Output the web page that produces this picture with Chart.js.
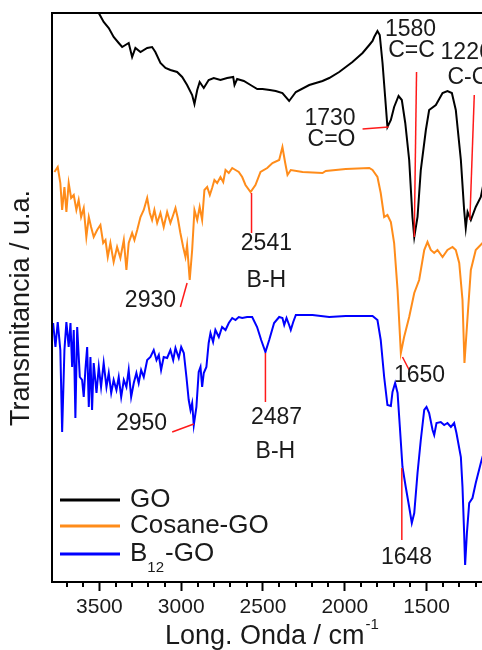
<!DOCTYPE html>
<html lang="es">
<head>
    <meta charset="UTF-8">
    <title>FTIR GO / Cosane-GO / B12-GO</title>
    <script src="https://cdn.jsdelivr.net/npm/chart.js"></script>
    <style>
        html, body { margin: 0; padding: 0; background: #fff; overflow: hidden; }
        #chart { display: block; }
    </style>
</head>
<body>
<canvas id="chart" width="560" height="650"></canvas>
<script>
    // --- datos (numero de onda en cm-1, transmitancia en u.a.) ---
    const wnGO = [3560, 3504, 3474, 3443, 3413, 3382, 3361, 3321, 3300, 3280, 3249, 3208, 3178, 3158, 3127, 3096, 3066, 3025, 2994, 2964,
        2933, 2919, 2902, 2887, 2862, 2832, 2801, 2760, 2719, 2682, 2674, 2658, 2617, 2576, 2535, 2503, 2458, 2422, 2381, 2340,
        2299, 2217, 2136, 2095, 2034, 1953, 1891, 1850, 1830, 1820, 1800, 1786, 1769, 1753, 1739, 1718, 1698, 1671, 1651, 1630,
        1606, 1586, 1575, 1555, 1535, 1504, 1484, 1443, 1402, 1372, 1345, 1321, 1290, 1270, 1260, 1249, 1229, 1199, 1168, 1100];
    const tGO = [600, 569, 560, 554, 545, 539, 535, 539, 525, 534, 530, 534, 535, 530, 519, 514, 512, 510, 505, 497,
        487, 478, 492, 500, 494, 502, 504, 502, 504, 505, 497, 503, 501, 497, 493, 493, 492, 491, 489, 481,
        490, 497, 501, 504, 510, 520, 529, 537, 541, 545, 551, 547, 519, 485, 455, 462, 475, 486, 482, 459,
        422, 365, 345, 365, 412, 452, 472, 477, 489, 491, 489, 472, 422, 372, 354, 370, 362, 375, 385, 440];

    const wnCosane = [3775, 3755, 3739, 3728, 3714, 3702, 3688, 3673, 3657, 3641, 3627, 3612, 3596, 3580, 3565, 3551, 3535, 3514, 3494, 3477,
        3463, 3449, 3433, 3413, 3392, 3372, 3351, 3335, 3321, 3300, 3286, 3269, 3249, 3229, 3208, 3192, 3178, 3164, 3147, 3127,
        3107, 3086, 3066, 3049, 3035, 3021, 3005, 2988, 2974, 2964, 2948, 2933, 2919, 2902, 2887, 2872, 2858, 2841, 2825, 2811,
        2797, 2780, 2760, 2743, 2729, 2709, 2688, 2668, 2648, 2627, 2607, 2576, 2546, 2515, 2474, 2442, 2401, 2381, 2364, 2350,
        2330, 2258, 2136, 2116, 1994, 1850, 1830, 1800, 1780, 1759, 1739, 1718, 1698, 1677, 1657, 1637, 1606, 1575, 1545, 1514,
        1494, 1474, 1453, 1433, 1402, 1372, 1341, 1321, 1300, 1280, 1268, 1249, 1229, 1199, 1158, 1100];
    const tCosane = [410, 415, 399, 372, 395, 370, 399, 384, 387, 372, 382, 365, 374, 345, 365, 355, 345, 352, 357, 339,
        342, 325, 339, 320, 335, 324, 342, 312, 339, 349, 342, 352, 365, 372, 384, 369, 362, 372, 359, 369,
        355, 370, 359, 367, 374, 364, 349, 335, 325, 337, 302, 332, 372, 362, 375, 362, 392, 395, 387, 394,
        402, 399, 405, 400, 412, 409, 414, 412, 410, 405, 397, 390, 397, 410, 414, 419, 422, 435, 419, 407,
        412, 410, 409, 411, 413, 414, 412, 405, 389, 365, 367, 360, 339, 292, 229, 245, 265, 289, 302, 332,
        340, 332, 329, 332, 325, 332, 335, 332, 319, 282, 219, 265, 312, 332, 339, 345];

    const wnB12 = [3783, 3769, 3755, 3739, 3728, 3714, 3702, 3688, 3677, 3667, 3657, 3647, 3636, 3620, 3606, 3596, 3586, 3575, 3565, 3555,
        3545, 3535, 3518, 3504, 3490, 3474, 3457, 3443, 3428, 3413, 3396, 3382, 3367, 3351, 3335, 3321, 3306, 3290, 3274, 3260,
        3245, 3229, 3208, 3188, 3168, 3151, 3137, 3123, 3107, 3086, 3066, 3049, 3035, 3015, 3000, 2984, 2968, 2954, 2943, 2933,
        2923, 2907, 2893, 2882, 2872, 2862, 2846, 2832, 2821, 2805, 2791, 2770, 2750, 2729, 2709, 2688, 2668, 2648, 2627, 2597,
        2566, 2536, 2511, 2485, 2462, 2432, 2401, 2381, 2370, 2356, 2340, 2330, 2315, 2299, 2197, 2095, 1994, 1891, 1830, 1800,
        1780, 1759, 1739, 1718, 1708, 1692, 1677, 1663, 1647, 1627, 1606, 1590, 1575, 1555, 1535, 1514, 1500, 1484, 1463, 1453,
        1439, 1413, 1392, 1372, 1351, 1331, 1317, 1290, 1280, 1270, 1264, 1253, 1239, 1219, 1199, 1168, 1158, 1100];
    const tB12 = [259, 235, 260, 232, 150, 232, 260, 235, 259, 215, 252, 164, 255, 205, 202, 185, 212, 235, 175, 225,
        172, 219, 189, 215, 195, 219, 195, 209, 189, 202, 192, 205, 185, 202, 195, 212, 185, 199, 209, 199,
        212, 205, 222, 225, 232, 222, 227, 212, 225, 224, 232, 222, 234, 224, 235, 229, 205, 182, 172, 179,
        157, 175, 210, 215, 195, 209, 215, 239, 249, 240, 252, 245, 255, 252, 259, 264, 262, 265, 264, 265,
        265, 255, 242, 230, 242, 259, 265, 264, 257, 264, 257, 252, 260, 267, 267, 265, 266, 266, 266, 262,
        242, 205, 177, 176, 190, 199, 189, 155, 115, 95, 75, 59, 69, 109, 142, 172, 175, 169, 152, 147,
        159, 160, 157, 159, 155, 159, 149, 125, 95, 49, 17, 49, 79, 84, 99, 119, 125, 150];

    const seriesNames = ['GO', 'Cosane-GO', 'B12-GO'];
    const seriesColors = ['#000000', '#ff8c1a', '#0000ff'];
    const xTickValues = [3500, 3000, 2500, 2000, 1500, 1000];

    // etiquetas de picos: texto, posicion (cm-1, u.a.), alineacion
    const peakLabels = [
        { text: '1580', wn: 1598, t: 552, align: 'center' },
        { text: 'C=C', wn: 1592, t: 531, align: 'center' },
        { text: '1226', wn: 1414, t: 529, align: 'left' },
        { text: 'C-O', wn: 1372, t: 504, align: 'left' },
        { text: '1730', wn: 2090, t: 463, align: 'center' },
        { text: 'C=O', wn: 2081, t: 442, align: 'center' },
        { text: '2541', wn: 2479, t: 338, align: 'center' },
        { text: 'B-H', wn: 2479, t: 301, align: 'center' },
        { text: '2930', wn: 3188, t: 281, align: 'center' },
        { text: '1650', wn: 1543, t: 206, align: 'center' },
        { text: '2950', wn: 3243, t: 158, align: 'center' },
        { text: '2487', wn: 2417, t: 164, align: 'center' },
        { text: 'B-H', wn: 2424, t: 130, align: 'center' },
        { text: '1648', wn: 1622, t: 24, align: 'center' }
    ];
    // lineas rojas que senalan los picos
    const peakLines = [
        [1561, 510, 1575, 345],
        [1208, 487, 1235, 362],
        [1891, 453, 1732, 455],
        [2570, 389, 2570, 349],
        [3005, 275, 2964, 299],
        [1647, 225, 1606, 212],
        [3055, 150, 2923, 158],
        [2485, 229, 2485, 180],
        [1651, 114, 1651, 42]
    ];

    const FONT = '"Liberation Sans", Arial, sans-serif';
    const TEXT = '#1a1a1a';

    function toPoints(xs, ys) {
        return xs.map((v, i) => ({ x: v, y: ys[i] }));
    }

    const overlay = {
        id: 'overlay',
        afterDraw(chart) {
            const { ctx, chartArea: a, scales: { x, y } } = chart;
            ctx.save();

            // marco
            ctx.strokeStyle = '#000';
            ctx.lineWidth = 2;
            ctx.strokeRect(a.left, a.top, a.right - a.left, a.bottom - a.top);

            // ticks menores cada 100
            for (let v = 3700; v >= 800; v -= 100) {
                if (v % 500 === 0) continue;
                const px = Math.round(x.getPixelForValue(v));
                ctx.beginPath();
                ctx.moveTo(px, a.bottom);
                ctx.lineTo(px, a.bottom + 5);
                ctx.stroke();
            }

            // lineas rojas
            ctx.strokeStyle = '#ff1a1a';
            ctx.lineWidth = 1.5;
            peakLines.forEach(l => {
                ctx.beginPath();
                ctx.moveTo(x.getPixelForValue(l[0]), y.getPixelForValue(l[1]));
                ctx.lineTo(x.getPixelForValue(l[2]), y.getPixelForValue(l[3]));
                ctx.stroke();
            });

            // textos de picos
            ctx.fillStyle = TEXT;
            ctx.font = '23px ' + FONT;
            ctx.textBaseline = 'middle';
            peakLabels.forEach(p => {
                ctx.textAlign = p.align;
                ctx.fillText(p.text, x.getPixelForValue(p.wn), y.getPixelForValue(p.t));
            });

            // leyenda
            const legY = [500, 526, 554];
            seriesNames.forEach((name, i) => {
                ctx.strokeStyle = seriesColors[i];
                ctx.lineWidth = 3;
                ctx.beginPath();
                ctx.moveTo(60, legY[i]);
                ctx.lineTo(120, legY[i]);
                ctx.stroke();
            });
            ctx.textAlign = 'left';
            ctx.font = '26px ' + FONT;
            ctx.fillText('GO', 130, legY[0]);
            ctx.fillText('Cosane-GO', 130, legY[1]);
            ctx.fillText('B', 130, legY[2]);
            const bw = ctx.measureText('B').width;
            ctx.font = '15px ' + FONT;
            ctx.fillText('12', 130 + bw, legY[2] + 14);
            const sw = ctx.measureText('12').width;
            ctx.font = '26px ' + FONT;
            ctx.fillText('-GO', 130 + bw + sw + 1, legY[2]);

            // titulo eje x
            ctx.font = '27px ' + FONT;
            ctx.fillText('Long. Onda / cm', 165, 637);
            const tw = ctx.measureText('Long. Onda / cm').width;
            ctx.font = '15px ' + FONT;
            ctx.fillText('-1', 165 + tw + 1, 625);

            // titulo eje y
            ctx.translate(22, 308);
            ctx.rotate(-Math.PI / 2);
            ctx.textAlign = 'center';
            ctx.font = '27px ' + FONT;
            ctx.fillText('Transmitancia / u.a.', 0, 0);

            ctx.restore();
        }
    };

    const ctx = document.getElementById('chart').getContext('2d');
    new Chart(ctx, {
        type: 'line',
        data: {
            datasets: [
                { label: seriesNames[0], data: toPoints(wnGO, tGO), borderColor: seriesColors[0] },
                { label: seriesNames[1], data: toPoints(wnCosane, tCosane), borderColor: seriesColors[1] },
                { label: seriesNames[2], data: toPoints(wnB12, tB12), borderColor: seriesColors[2] }
            ]
        },
        options: {
            responsive: false,
            animation: false,
            devicePixelRatio: 1,
            layout: { padding: { left: 52, top: 13, right: 19, bottom: 0 } },
            elements: {
                line: { borderWidth: 2, tension: 0 },
                point: { radius: 0 }
            },
            plugins: { legend: { display: false }, tooltip: { enabled: false } },
            scales: {
                x: {
                    type: 'linear',
                    reverse: true,
                    min: 800,
                    max: 3790,
                    afterFit: s => { s.height = 68; },
                    afterBuildTicks: s => { s.ticks = xTickValues.map(v => ({ value: v })); },
                    border: { display: false },
                    grid: { drawOnChartArea: false, tickLength: 9, tickWidth: 2, tickColor: '#000' },
                    ticks: {
                        color: TEXT, font: { family: FONT, size: 21 }, padding: 4, maxRotation: 0,
                        callback: v => String(v)
                    }
                },
                y: { display: false, min: 0, max: 569 }
            }
        },
        plugins: [overlay]
    });
</script>
</body>
</html>
